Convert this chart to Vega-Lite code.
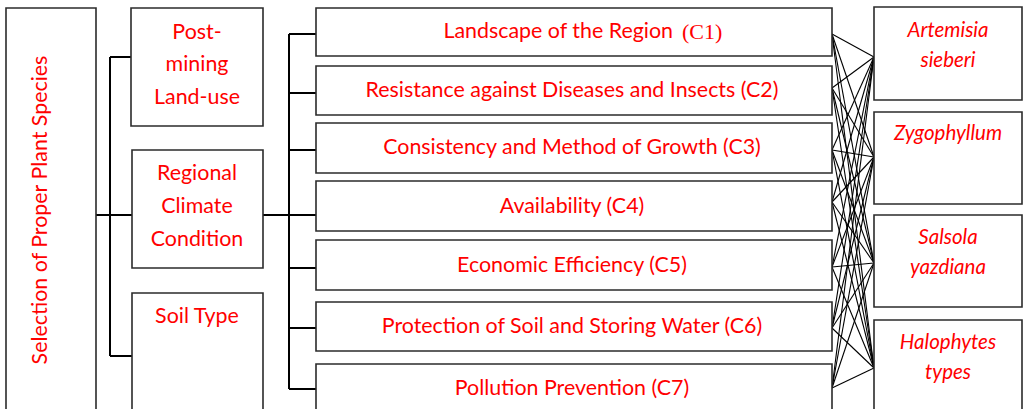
{
  "$schema": "https://vega.github.io/schema/vega-lite/v6.json",
  "width": 1023,
  "height": 409,
  "autosize": {"type": "fit", "contains": "padding"},
  "padding": 0,
  "background": "white",
  "config": {"view": {"stroke": null}},
  "datasets": {
    "boxes": [
      {"name": "Selection", "x1": 6, "x2": 96, "y1": 8, "y2": 420},
      {"name": "Post-mining", "x1": 131, "x2": 263, "y1": 8, "y2": 126},
      {"name": "Regional", "x1": 132, "x2": 263, "y1": 150, "y2": 268},
      {"name": "Soil", "x1": 132, "x2": 263, "y1": 293, "y2": 420},
      {"name": "C1", "x1": 316, "x2": 832, "y1": 8, "y2": 56},
      {"name": "C2", "x1": 316, "x2": 832, "y1": 66, "y2": 115},
      {"name": "C3", "x1": 316, "x2": 832, "y1": 123, "y2": 173},
      {"name": "C4", "x1": 316, "x2": 832, "y1": 181, "y2": 231},
      {"name": "C5", "x1": 316, "x2": 832, "y1": 240, "y2": 290},
      {"name": "C6", "x1": 316, "x2": 832, "y1": 302, "y2": 351},
      {"name": "C7", "x1": 316, "x2": 832, "y1": 364, "y2": 420},
      {"name": "Artemisia", "x1": 874, "x2": 1022, "y1": 7, "y2": 100},
      {"name": "Zygophyllum", "x1": 874, "x2": 1022, "y1": 112, "y2": 204},
      {"name": "Salsola", "x1": 874, "x2": 1022, "y1": 215, "y2": 307},
      {"name": "Halophytes", "x1": 874, "x2": 1022, "y1": 320, "y2": 420}
    ],
    "connectors": [
      {"x1": 96, "x2": 132, "y1": 215, "y2": 215},
      {"x1": 110, "x2": 110, "y1": 57, "y2": 356},
      {"x1": 110, "x2": 131, "y1": 57, "y2": 57},
      {"x1": 110, "x2": 132, "y1": 356, "y2": 356},
      {"x1": 263, "x2": 316, "y1": 215, "y2": 215},
      {"x1": 289, "x2": 289, "y1": 34, "y2": 389},
      {"x1": 289, "x2": 316, "y1": 34, "y2": 34},
      {"x1": 289, "x2": 316, "y1": 93, "y2": 93},
      {"x1": 289, "x2": 316, "y1": 150, "y2": 150},
      {"x1": 289, "x2": 316, "y1": 268, "y2": 268},
      {"x1": 289, "x2": 316, "y1": 328, "y2": 328},
      {"x1": 289, "x2": 316, "y1": 389, "y2": 389}
    ],
    "links": [
      {"x1": 832, "x2": 874, "y1": 34, "y2": 57},
      {"x1": 832, "x2": 874, "y1": 34, "y2": 157},
      {"x1": 832, "x2": 874, "y1": 34, "y2": 263},
      {"x1": 832, "x2": 874, "y1": 34, "y2": 368},
      {"x1": 832, "x2": 874, "y1": 88, "y2": 57},
      {"x1": 832, "x2": 874, "y1": 88, "y2": 157},
      {"x1": 832, "x2": 874, "y1": 88, "y2": 263},
      {"x1": 832, "x2": 874, "y1": 88, "y2": 368},
      {"x1": 832, "x2": 874, "y1": 150, "y2": 57},
      {"x1": 832, "x2": 874, "y1": 150, "y2": 157},
      {"x1": 832, "x2": 874, "y1": 150, "y2": 263},
      {"x1": 832, "x2": 874, "y1": 150, "y2": 368},
      {"x1": 832, "x2": 874, "y1": 202, "y2": 57},
      {"x1": 832, "x2": 874, "y1": 202, "y2": 157},
      {"x1": 832, "x2": 874, "y1": 202, "y2": 263},
      {"x1": 832, "x2": 874, "y1": 202, "y2": 368},
      {"x1": 832, "x2": 874, "y1": 267, "y2": 57},
      {"x1": 832, "x2": 874, "y1": 267, "y2": 157},
      {"x1": 832, "x2": 874, "y1": 267, "y2": 263},
      {"x1": 832, "x2": 874, "y1": 267, "y2": 368},
      {"x1": 832, "x2": 874, "y1": 328, "y2": 57},
      {"x1": 832, "x2": 874, "y1": 328, "y2": 157},
      {"x1": 832, "x2": 874, "y1": 328, "y2": 263},
      {"x1": 832, "x2": 874, "y1": 328, "y2": 368},
      {"x1": 832, "x2": 874, "y1": 388, "y2": 57},
      {"x1": 832, "x2": 874, "y1": 388, "y2": 157},
      {"x1": 832, "x2": 874, "y1": 388, "y2": 263},
      {"x1": 832, "x2": 874, "y1": 388, "y2": 368}
    ],
    "labels": [
      {"label": "Post-", "x": 197, "y": 33},
      {"label": "mining", "x": 197, "y": 65},
      {"label": "Land-use", "x": 197, "y": 98},
      {"label": "Regional", "x": 197, "y": 174},
      {"label": "Climate", "x": 197, "y": 207},
      {"label": "Condition", "x": 197, "y": 240},
      {"label": "Soil Type", "x": 197, "y": 317},
      {"label": "Resistance against Diseases and Insects (C2)", "x": 572, "y": 91},
      {"label": "Consistency and Method of Growth (C3)", "x": 572, "y": 148},
      {"label": "Availability (C4)", "x": 572, "y": 207},
      {"label": "Economic Efficiency (C5)", "x": 572, "y": 266},
      {"label": "Protection of Soil and Storing Water (C6)", "x": 572, "y": 327},
      {"label": "Pollution Prevention (C7)", "x": 572, "y": 389}
    ],
    "c1main": [{"label": "Landscape of the Region", "x": 673, "y": 32}],
    "c1serif": [{"label": "(C1)", "x": 682, "y": 32}],
    "vertical": [{"label": "Selection of Proper Plant Species", "x": 41, "y": 210}],
    "species": [
      {"label": "Artemisia", "x": 948, "y": 31},
      {"label": "sieberi", "x": 948, "y": 61},
      {"label": "Zygophyllum", "x": 948, "y": 134},
      {"label": "Salsola", "x": 948, "y": 238},
      {"label": "yazdiana", "x": 948, "y": 268},
      {"label": "Halophytes", "x": 948, "y": 343},
      {"label": "types", "x": 948, "y": 373}
    ]
  },
  "encoding": {},
  "layer": [
    {
      "data": {"name": "links"},
      "mark": {"type": "rule", "color": "black", "strokeWidth": 1.1},
      "encoding": {
        "x": {"field": "x1", "type": "quantitative", "scale": {"domain": [0, 1023]}, "axis": null},
        "x2": {"field": "x2"},
        "y": {"field": "y1", "type": "quantitative", "scale": {"domain": [0, 409], "reverse": true}, "axis": null},
        "y2": {"field": "y2"}
      }
    },
    {
      "data": {"name": "connectors"},
      "mark": {"type": "rule", "color": "black", "strokeWidth": 2},
      "encoding": {
        "x": {"field": "x1", "type": "quantitative", "scale": {"domain": [0, 1023]}, "axis": null},
        "x2": {"field": "x2"},
        "y": {"field": "y1", "type": "quantitative", "scale": {"domain": [0, 409], "reverse": true}, "axis": null},
        "y2": {"field": "y2"}
      }
    },
    {
      "data": {"name": "boxes"},
      "mark": {"type": "rect", "fill": "white", "stroke": "#2b2b2b", "strokeWidth": 1.6, "clip": true},
      "encoding": {
        "x": {"field": "x1", "type": "quantitative", "scale": {"domain": [0, 1023]}, "axis": null},
        "x2": {"field": "x2"},
        "y": {"field": "y1", "type": "quantitative", "scale": {"domain": [0, 409], "reverse": true}, "axis": null},
        "y2": {"field": "y2"}
      }
    },
    {
      "data": {"name": "labels"},
      "mark": {"type": "text", "font": "Lato", "fontSize": 21.4, "color": "#ff0000", "align": "center", "baseline": "middle"},
      "encoding": {
        "x": {"field": "x", "type": "quantitative", "scale": {"domain": [0, 1023]}, "axis": null},
        "y": {"field": "y", "type": "quantitative", "scale": {"domain": [0, 409], "reverse": true}, "axis": null},
        "text": {"field": "label"}
      }
    },
    {
      "data": {"name": "c1main"},
      "mark": {"type": "text", "font": "Lato", "fontSize": 21.4, "color": "#ff0000", "align": "right", "baseline": "middle"},
      "encoding": {
        "x": {"field": "x", "type": "quantitative", "scale": {"domain": [0, 1023]}, "axis": null},
        "y": {"field": "y", "type": "quantitative", "scale": {"domain": [0, 409], "reverse": true}, "axis": null},
        "text": {"field": "label"}
      }
    },
    {
      "data": {"name": "c1serif"},
      "mark": {"type": "text", "font": "Liberation Serif", "fontSize": 22, "color": "#ff0000", "align": "left", "baseline": "middle"},
      "encoding": {
        "x": {"field": "x", "type": "quantitative", "scale": {"domain": [0, 1023]}, "axis": null},
        "y": {"field": "y", "type": "quantitative", "scale": {"domain": [0, 409], "reverse": true}, "axis": null},
        "text": {"field": "label"}
      }
    },
    {
      "data": {"name": "vertical"},
      "mark": {"type": "text", "font": "Lato", "fontSize": 21.4, "color": "#ff0000", "align": "center", "baseline": "middle", "angle": 270},
      "encoding": {
        "x": {"field": "x", "type": "quantitative", "scale": {"domain": [0, 1023]}, "axis": null},
        "y": {"field": "y", "type": "quantitative", "scale": {"domain": [0, 409], "reverse": true}, "axis": null},
        "text": {"field": "label"}
      }
    },
    {
      "data": {"name": "species"},
      "mark": {"type": "text", "font": "Lato", "fontSize": 20.5, "fontStyle": "italic", "color": "#ff0000", "align": "center", "baseline": "middle"},
      "encoding": {
        "x": {"field": "x", "type": "quantitative", "scale": {"domain": [0, 1023]}, "axis": null},
        "y": {"field": "y", "type": "quantitative", "scale": {"domain": [0, 409], "reverse": true}, "axis": null},
        "text": {"field": "label"}
      }
    }
  ]
}
